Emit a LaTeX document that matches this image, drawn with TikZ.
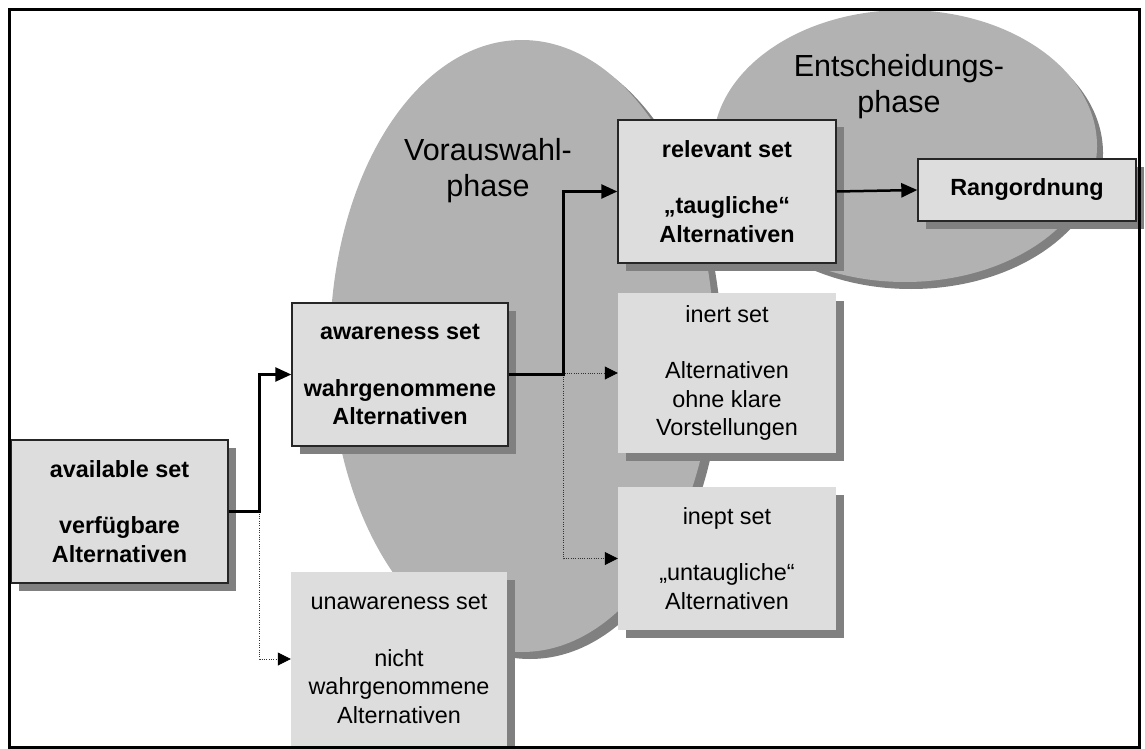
\documentclass[tikz,border=0pt]{standalone}
\usepackage{fontspec}
\setmainfont{Liberation Sans}
\usetikzlibrary{arrows.meta,shadows}
\definecolor{boxfill}{HTML}{DDDDDD}
\definecolor{shadowgray}{HTML}{808080}
\definecolor{phasefill}{HTML}{B2B2B2}
\newcommand{\boxfont}{\fontsize{23.4}{28.5}\selectfont}
\newcommand{\phasefont}{\fontsize{30.5}{36}\selectfont}
\begin{document}
\begin{tikzpicture}[x=1pt,y=-1pt,
  setbox/.style={rectangle, fill=boxfill, inner sep=0pt, align=center,
    font=\boxfont,
    drop shadow={shadow xshift=7.5pt, shadow yshift=-7.5pt, fill=shadowgray, opacity=1}},
  framedbox/.style={setbox, draw=black!85, line width=1.4pt},
  mainflow/.style={line width=2.5pt, -{Triangle[length=16pt,width=14pt]}},
  sideflow/.style={line width=0.8pt, black!80, dash pattern=on 1pt off 1.3pt,
    -{Triangle[length=13pt,width=13pt,color=black]}},
  phaselabel/.style={align=center, font=\phasefont, inner sep=0pt}
]
\useasboundingbox (0,0) rectangle (1145,749);

% phase ellipses with their shadows
\fill[shadowgray] (530,353) ellipse [x radius=192pt, y radius=306pt];
\fill[phasefill]  (522,346) ellipse [x radius=192pt, y radius=306pt];
\fill[shadowgray] (911,153) ellipse [x radius=192pt, y radius=136pt];
\fill[phasefill]  (905,146) ellipse [x radius=192pt, y radius=136pt];

\node[phaselabel] (vorauswahl) at (488,170.5) {Vorauswahl-\\phase};
\node[phaselabel] (entscheidung) at (899,86.5) {Entscheidungs-\\phase};

% sets
\node[framedbox, minimum width=217pt, minimum height=143pt] (avail) at (119.5,511.5)
  {\textbf{available set}\\[28pt]\textbf{verfügbare}\\\textbf{Alternativen}};
\node[framedbox, minimum width=216pt, minimum height=143pt] (aware) at (400,374.5)
  {\textbf{awareness set}\\[28pt]\textbf{wahrgenommene}\\\textbf{Alternativen}};
\node[framedbox, minimum width=218pt, minimum height=143pt] (relev) at (727,191.5)
  {\textbf{relevant set}\\[28pt]\textbf{„taugliche“}\\\textbf{Alternativen}};
\node[framedbox, minimum width=218pt, minimum height=62pt] (rang) at (1027,190)
  {\textbf{Rangordnung}};
\node[setbox, minimum width=218pt, minimum height=160pt] (inert) at (727,373)
  {inert set\\[28pt]Alternativen\\ohne klare\\Vorstellungen};
\node[setbox, minimum width=218pt, minimum height=143pt] (inept) at (727,558.5)
  {inept set\\[28pt]„untaugliche“\\Alternativen};
\node[setbox, minimum width=216pt, minimum height=174pt] (unaware) at (399,659)
  {unawareness set\\[28pt]nicht\\wahrgenommene\\Alternativen};

% branching points
\coordinate (split1) at ([xshift=31pt]avail.east);
\coordinate (split2) at ([xshift=55pt]aware.east);

% connectors
\draw[sideflow] (split1) |- (unaware.west);
\draw[sideflow] (split2) |- (inert.west);
\draw[sideflow] (split2) |- (inept.west);
\draw[mainflow] (avail.east) -- (split1) |- (aware.west);
\draw[mainflow] (aware.east) -- (split2) |- (relev.west);
\draw[mainflow] (relev.east) -- (rang.west);

% outer frame
\draw[line width=3pt] (9.5,9.5) rectangle (1139.5,747.5);
\end{tikzpicture}
\end{document}
